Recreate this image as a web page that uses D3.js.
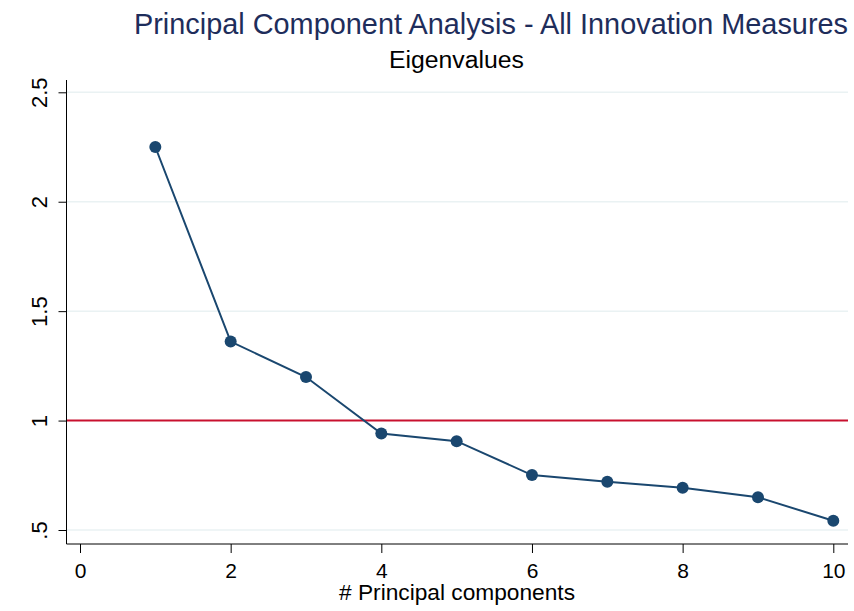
<!DOCTYPE html>
<html><head><meta charset="utf-8">
<script src="https://cdn.jsdelivr.net/npm/d3@7"></script>
<style>body{margin:0;background:#fff}svg{display:block}text{font-family:"Liberation Sans",Arial,sans-serif}</style>
</head><body><svg id="c" width="854" height="611"></svg>
<script>
const components = [1,2,3,4,5,6,7,8,9,10];
const eigenvalues = [2.25,1.361,1.199,0.941,0.906,0.751,0.720,0.693,0.650,0.542];
const xTicks = [0,2,4,6,8,10];
const yTicks = [0.5,1,1.5,2,2.5];
const yTickLabels = [".5","1","1.5","2","2.5"];
const refValue = 1;
const title = "Principal Component Analysis - All Innovation Measures";
const subtitle = "Eigenvalues";
const xTitle = "# Principal components";

const svg = d3.select("#c");
const pLeft = 66.5, pRight = 848, pTop = 80, pBottom = 544;
const x = d3.scaleLinear().domain([0,10]).range([80,833.3]);
const y = d3.scaleLinear().domain([0.5,2.5]).range([530,92.3]);

// grid
svg.append("g").selectAll("line").data(yTicks.filter(d=>d!==refValue)).join("line")
  .attr("x1",pLeft).attr("x2",pRight).attr("y1",d=>y(d)).attr("y2",d=>y(d))
  .attr("stroke","#eaf2f3").attr("stroke-width",1.5);

// reference line
svg.append("line").attr("x1",pLeft).attr("x2",pRight).attr("y1",y(refValue)).attr("y2",y(refValue))
  .attr("stroke","#c8102e").attr("stroke-width",2);

// axes
const yAxis = d3.axisLeft(y).tickValues(yTicks).tickFormat((d,i)=>yTickLabels[i]).tickSize(8).tickPadding(8);
const gy = svg.append("g").attr("transform",`translate(${pLeft},0)`).call(yAxis);
gy.select(".domain").attr("d",`M0,${pTop}V${pBottom}`).attr("stroke","#000");
gy.selectAll(".tick line").attr("stroke","#000");
gy.selectAll(".tick text").attr("font-size",22).attr("fill","#000")
  .attr("text-anchor","middle").attr("transform","translate(-19.5,0) rotate(-90)")
  .attr("x",0).attr("dy","0");

const xAxis = d3.axisBottom(x).tickValues(xTicks).tickSize(9).tickPadding(10);
const gx = svg.append("g").attr("transform",`translate(0,${pBottom})`).call(xAxis);
gx.select(".domain").attr("d",`M${pLeft},0H${pRight}`).attr("stroke","#000");
gx.selectAll(".tick line").attr("stroke","#000");
gx.selectAll(".tick text").attr("font-size",21).attr("fill","#000").attr("y",34).attr("dy","0");

// line + markers
const data = components.map((c,i)=>({c, v:eigenvalues[i]}));
svg.append("path").datum(data)
  .attr("d",d3.line().x(d=>x(d.c)).y(d=>y(d.v)))
  .attr("fill","none").attr("stroke","#1a476f").attr("stroke-width",2);
svg.append("g").selectAll("circle").data(data).join("circle")
  .attr("cx",d=>x(d.c)).attr("cy",d=>y(d.v)).attr("r",6).attr("fill","#1a476f");

// titles
svg.append("text").attr("x",134).attr("y",34).attr("text-anchor","start")
  .attr("font-size",29).attr("textLength",714).attr("lengthAdjust","spacingAndGlyphs")
  .attr("fill","#1e2d5b").text(title);
svg.append("text").attr("x",389).attr("y",68).attr("text-anchor","start")
  .attr("font-size",23).attr("textLength",135).attr("lengthAdjust","spacingAndGlyphs")
  .attr("fill","#000").text(subtitle);
svg.append("text").attr("x",339).attr("y",600).attr("text-anchor","start")
  .attr("font-size",22).attr("textLength",236).attr("lengthAdjust","spacingAndGlyphs")
  .attr("fill","#000").text(xTitle);
</script></body></html>
